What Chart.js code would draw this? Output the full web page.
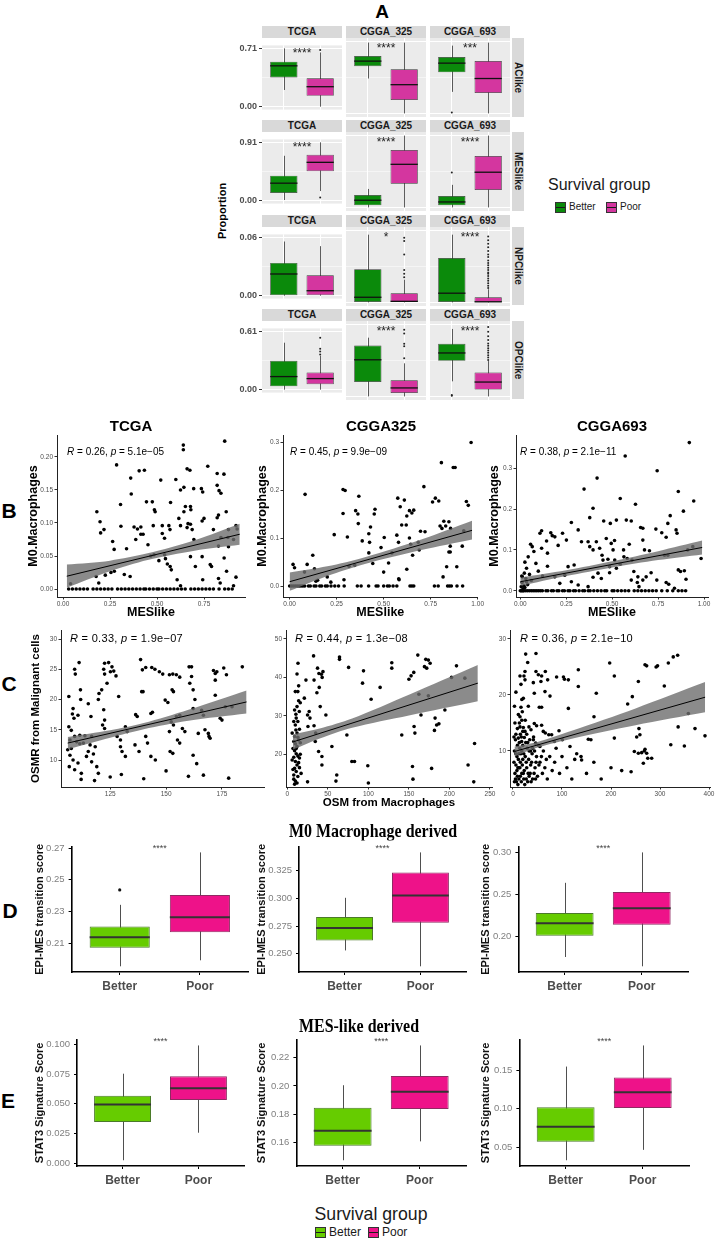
<!DOCTYPE html>
<html>
<head>
<meta charset="utf-8">
<title>Survival group figure</title>
<script src="https://cdn.jsdelivr.net/npm/chart.js@4.4.1/dist/chart.umd.min.js"></script>
<style>
  html, body { margin: 0; padding: 0; background: #fff; }
  body { position: relative; width: 715px; height: 1239px; overflow: hidden; font-family: "Liberation Sans", Arial, sans-serif; color: #000; }
  canvas { position: absolute; }
  .t { position: absolute; white-space: nowrap; line-height: 1; }
  .strip { position: absolute; background: #d9d9d9; color: #1a1a1a; font-weight: bold; font-size: 10px; text-align: center; }
  .vstrip { writing-mode: vertical-rl; }
  .key { position: absolute; width: 11px; height: 11px; box-sizing: border-box; border: 1px solid #333; }
  .key::after { content: ''; position: absolute; left: 0; right: 0; top: 4px; height: 1.5px; background: #1a1a1a; }
  .key::before { content: ''; position: absolute; left: 4px; width: 1px; top: -3px; bottom: -3px; background: #333; z-index: -1; }
</style>
</head>
<body>
<script>
// ---------------- panel A : malignant state proportions ----------------
var facetCols = ['TCGA', 'CGGA_325', 'CGGA_693'];
var facetRows = ['AClike', 'MESlike', 'NPClike', 'OPClike'];
var rowBreaks = ['0.71', '0.91', '0.06', '0.61'];
var groups = ['Better', 'Poor'];

// five numbers per box: [lower whisker, q1, median, q3, upper whisker]
var aBetter = [
  [[0.203, 0.355, 0.497, 0.548, 0.71], [0.345, 0.467, 0.517, 0.568, 0.70], [0.213, 0.406, 0.497, 0.558, 0.67]],
  [[0.01, 0.121, 0.273, 0.39, 0.70], [0, 0.026, 0.091, 0.156, 0.234], [0, 0.026, 0.069, 0.143, 0.286]],
  [[0, 0, 0.0223, 0.0337, 0.0557], [0, 0, 0.0043, 0.0277, 0.0566], [0, 0, 0.0077, 0.0371, 0.0566]],
  [[0, 0.035, 0.137, 0.302, 0.491], [0, 0.122, 0.311, 0.433, 0.499], [0.128, 0.302, 0.369, 0.447, 0.573]]
];
var aPoor = [
  [[0, 0.132, 0.243, 0.345, 0.66], [0, 0.132, 0.284, 0.436, 0.70], [0, 0.203, 0.345, 0.517, 0.70]],
  [[0.15, 0.459, 0.598, 0.715, 0.91], [0, 0.299, 0.546, 0.728, 0.91], [0, 0.221, 0.446, 0.65, 0.91]],
  [[0, 0, 0.0051, 0.0209, 0.0509], [0, 0, 0.0009, 0.0077, 0.019], [0, 0, 0.0005, 0.0043, 0.011]],
  [[0, 0.058, 0.116, 0.18, 0.355], [0, 0.029, 0.072, 0.137, 0.281], [0, 0.058, 0.122, 0.203, 0.30]]
];
var aOutBetter = [
  [[], [], [0.01]],
  [[], [], [0.442]],
  [[], [], []],
  [[], [], [0.005, 0.011]]
];
var aOutPoor = [
  [[0.69], [], []],
  [[0.05], [], []],
  [[], [0.021, 0.024, 0.027, 0.040, 0.0514, 0.054],
   [0.012, 0.014, 0.016, 0.018, 0.020, 0.022, 0.024, 0.025, 0.027, 0.029, 0.031, 0.033, 0.035, 0.038, 0.040, 0.043, 0.046, 0.049, 0.052, 0.055]],
  [[0.369, 0.398, 0.427, 0.543], [0.325, 0.427, 0.447, 0.534, 0.566],
   [0.31, 0.33, 0.35, 0.37, 0.39, 0.41, 0.43, 0.45, 0.48, 0.51, 0.55, 0.59]]
];
var aStars = [['****', '****', '***'], ['****', '****', '****'], ['', '*', '****'], ['', '****', '****']];

// ---------------- panel B : M0 macrophages vs MESlike ----------------
var bTitles = ['TCGA', 'CGGA325', 'CGGA693'];
var bStats = ['0.26, <i>p</i> = 5.1e\u221205', '0.45, <i>p</i> = 9.9e\u221209', '0.38, <i>p</i> = 2.1e\u221211'];

var bTcgaPts = [[0.64,0.218],[0.64,0.211],[0.86,0.224],[0.285,0.188],[0.405,0.179],[0.433,0.18],[0.66,0.182],[0.675,0.18],[0.77,0.186],[0.82,0.175],[0.856,0.174],
  [0.36,0.168],[0.52,0.165],[0.6,0.166],[0.625,0.15],[0.643,0.154],[0.695,0.152],[0.736,0.152],[0.743,0.147],[0.82,0.157],[0.83,0.149],[0.84,0.145],
  [0.363,0.144],[0.306,0.128],[0.444,0.132],[0.475,0.132],[0.486,0.12],[0.49,0.117],[0.572,0.131],[0.18,0.117],[0.2,0.085],
  [0.197,0.102],[0.218,0.09],[0.264,0.072],[0.272,0.06],[0.308,0.095],[0.378,0.094],[0.396,0.091],[0.414,0.094],[0.387,0.075],[0.414,0.083],[0.426,0.083],
  [0.338,0.061],[0.452,0.067],[0.48,0.096],[0.528,0.096],[0.528,0.084],[0.54,0.077],[0.563,0.096],[0.569,0.09],[0.616,0.107],[0.625,0.096],[0.643,0.117],
  [0.651,0.125],[0.678,0.125],[0.68,0.12],[0.66,0.093],[0.678,0.098],[0.665,0.099],[0.687,0.09],[0.696,0.075],[0.74,0.103],[0.75,0.107],[0.8,0.09],
  [0.82,0.108],[0.827,0.112],[0.868,0.117],[0.88,0.09],[0.92,0.096],[0.926,0.091],[0.84,0.078],[0.877,0.078],[0.907,0.075],[0.54,0.052],[0.467,0.05],
  [0.484,0.052],[0.827,0.065],[0.88,0.064],[0.176,0.019],[0.19,0.009],[0.225,0.021],[0.255,0.025],[0.273,0.027],[0.326,0.022],[0.357,0.019],[0.51,0.043],
  [0.545,0.046],[0.555,0.038],[0.57,0.034],[0.576,0.029],[0.607,0.014],[0.625,0.005],[0.678,0.049],[0.704,0.034],[0.74,0.049],[0.783,0.037],[0.79,0.034],
  [0.743,0.014],[0.827,0.016],[0.836,0.009],[0.87,0.027],[0.857,0.047],[0.92,0.018],[0.907,0.005],[0.04,0.008]];
var bTcgaZeroX = [0.03,0.05,0.07,0.09,0.11,0.13,0.16,0.18,0.2,0.22,0.24,0.26,0.29,0.31,0.33,0.35,0.37,0.39,0.41,0.43,0.44,0.46,0.48,0.5,0.51,
  0.53,0.55,0.57,0.59,0.61,0.63,0.65,0.68,0.7,0.72,0.74,0.76,0.78,0.8,0.83,0.86,0.88,0.9];
var bTcgaFit = [[0.02, 0.0194], [0.94, 0.083]];
var bTcgaBandX = [0.02, 0.25, 0.45, 0.7, 0.94];
var bTcgaBandHi = [0.037, 0.043, 0.054, 0.074, 0.099];
var bTcgaBandLo = [0.002, 0.027, 0.044, 0.058, 0.067];

var b325Pts = [[0.965,0.299],[0.807,0.257],[0.87,0.247],[0.88,0.247],[0.94,0.176],[0.95,0.168],[0.082,0.191],[0.284,0.201],[0.295,0.199],[0.368,0.187],
  [0.714,0.207],[0.575,0.183],[0.61,0.179],[0.588,0.165],[0.637,0.157],[0.65,0.152],[0.66,0.158],[0.793,0.177],[0.76,0.175],[0.775,0.183],[0.284,0.151],
  [0.351,0.157],[0.363,0.15],[0.365,0.13],[0.454,0.16],[0.45,0.15],[0.623,0.146],[0.596,0.127],[0.62,0.127],[0.237,0.107],[0.307,0.102],[0.386,0.094],
  [0.421,0.109],[0.425,0.091],[0.43,0.123],[0.503,0.101],[0.57,0.106],[0.579,0.091],[0.637,0.1],[0.696,0.114],[0.8,0.125],[0.82,0.135],[0.81,0.12],
  [0.83,0.125],[0.847,0.134],[0.856,0.12],[0.684,0.091],[0.918,0.083],[0.854,0.083],[0.854,0.071],[0.926,0.115],[0.123,0.064],[0.093,0.045],[0.132,0.036],
  [0.018,0.045],[0.026,0.038],[0.079,0.029],[0.149,0.012],[0.2,0.019],[0.219,0.008],[0.289,0.013],[0.316,0.041],[0.346,0.043],[0.421,0.069],[0.442,0.047],
  [0.5,0.029],[0.526,0.048],[0.486,0.08],[0.544,0.069],[0.582,0.013],[0.623,0.035],[0.644,0.087],[0.654,0.064],[0.689,0.075],[0.816,0.019],[0.835,0.04],
  [0.847,0.071],[0.889,0.04],[0.14,0.01],[0.72,0.113],[0.58,0.015]];
var b325ZeroX = [0.0,0.01,0.02,0.03,0.04,0.05,0.06,0.07,0.08,0.1,0.11,0.13,0.14,0.16,0.17,0.19,0.2,0.22,0.24,0.26,0.29,0.36,0.38,0.42,0.46,0.47,0.5,
  0.52,0.53,0.55,0.57,0.64,0.65,0.66,0.77,0.79,0.84,0.85,0.86,0.89,0.92];
var b325Fit = [[0.0, 0.009], [0.97, 0.116]];
var b325BandX = [0.0, 0.2, 0.4, 0.7, 0.97];
var b325BandHi = [0.028, 0.041, 0.06, 0.097, 0.136];
var b325BandLo = [-0.01, 0.021, 0.046, 0.075, 0.097];

var b693Pts = [[0.92,0.363],[0.571,0.33],[0.745,0.294],[0.418,0.276],[0.347,0.249],[0.86,0.243],[0.544,0.226],[0.944,0.22],[0.396,0.202],[0.627,0.212],
  [0.816,0.184],[0.378,0.179],[0.523,0.173],[0.454,0.171],[0.577,0.173],[0.604,0.171],[0.49,0.165],[0.278,0.167],[0.888,0.195],[0.803,0.165],[0.848,0.149],
  [0.853,0.141],[0.77,0.142],[0.794,0.131],[0.738,0.151],[0.655,0.155],[0.667,0.153],[0.667,0.124],[0.676,0.1],[0.107,0.141],[0.116,0.147],[0.166,0.142],
  [0.174,0.135],[0.188,0.132],[0.23,0.141],[0.143,0.122],[0.206,0.111],[0.251,0.124],[0.116,0.104],[0.148,0.092],[0.056,0.114],[0.065,0.108],[0.074,0.096],
  [0.043,0.083],[0.025,0.07],[0.034,0.055],[0.022,0.043],[0.011,0.034],[0.034,0.022],[0.085,0.067],[0.098,0.048],[0.121,0.036],[0.148,0.06],[0.188,0.034],
  [0.315,0.149],[0.333,0.12],[0.369,0.12],[0.378,0.108],[0.396,0.1],[0.414,0.12],[0.432,0.104],[0.445,0.087],[0.468,0.128],[0.495,0.116],[0.513,0.123],
  [0.505,0.1],[0.562,0.1],[0.564,0.083],[0.582,0.079],[0.593,0.114],[0.544,0.065],[0.514,0.075],[0.477,0.077],[0.45,0.075],[0.486,0.059],[0.523,0.055],
  [0.486,0.044],[0.423,0.043],[0.441,0.03],[0.396,0.033],[0.369,0.01],[0.315,0.014],[0.278,0.022],[0.26,0.059],[0.242,0.038],[0.215,0.018],[0.293,0.063],
  [0.608,0.075],[0.618,0.047],[0.604,0.026],[0.637,0.02],[0.646,0.01],[0.64,0.034],[0.667,0.026],[0.685,0.034],[0.703,0.098],[0.743,0.026],[0.794,0.02],
  [0.808,0.016],[0.839,0.006],[0.803,0.087],[0.785,0.087],[0.86,0.051],[0.872,0.047],[0.893,0.049],[0.911,0.1],[0.939,0.108],[0.984,0.079],[0.902,0.028],
  [0.712,0.044],[0.005,0.01],[0.01,0.02],[0.015,0.005],[0.02,0.012],[0.03,0.03],[0.04,0.015],[0.05,0.04],[0.06,0.025],[0.008,0.036],[0.025,0.008]];
var b693ZeroX = [0,0.005,0.01,0.015,0.02,0.03,0.04,0.05,0.06,0.07,0.08,0.09,0.1,0.11,0.12,0.14,0.15,0.17,0.18,0.2,0.21,0.23,0.24,0.26,0.27,0.29,0.3,
  0.32,0.34,0.35,0.37,0.38,0.4,0.42,0.44,0.46,0.47,0.5,0.51,0.53,0.55,0.57,0.59,0.62,0.64,0.66,0.68,0.7,0.72,0.74,0.77,0.8,0.83,0.86,0.88,0.9];
var b693Fit = [[0.0, 0.022], [0.99, 0.106]];
var b693BandX = [0.0, 0.25, 0.5, 0.75, 0.99];
var b693BandHi = [0.032, 0.05, 0.072, 0.097, 0.123];
var b693BandLo = [0.012, 0.036, 0.057, 0.075, 0.089];

// ---------------- panel C : OSMR vs OSM ----------------
var cStats = ['0.33, <i>p</i> = 1.9e\u221207', '0.44, <i>p</i> = 1.3e\u221208', '0.36, <i>p</i> = 2.1e\u221210'];

var cTcgaPts = [[106.5,20.5],[109.1,25.0],[109.4,24.2],[111.1,26.1],[111.7,21.6],[111.8,20.0],[108.1,17.6],[108.8,16.9],[108.4,18.5],[106.5,15.5],
  [107.6,14.9],[110.6,17.4],[115.2,19.3],[116.4,17.2],[109.1,13.9],[111.4,14.1],[113.7,14.0],[116.7,13.9],[107,13.3],[110,13.0],[113,12.8],[116,12.5],
  [118.3,12.2],[107.6,11.9],[111.4,12.7],[106,11.7],[107,10.8],[108.4,10.0],[110.6,9.5],[106.7,8.9],[109.1,8.4],[112.1,7.8],[114.4,10.6],[116.7,9.7],
  [119,8.9],[119.7,7.8],[115.2,11.4],[117.5,11.0],[122.5,26.0],[124.3,26.1],[125.8,25.4],[122.1,25.0],[122.5,24.2],[123.6,22.7],[121.2,21.6],[120,21.0],
  [119.7,20.0],[122.1,18.3],[122.5,16.6],[121.6,15.8],[122.5,15.2],[125.1,24.6],[126.6,24.7],[127.6,23.9],[128.8,20.5],[131.8,15.5],[132.6,14.7],
  [128.1,13.9],[129.6,13.3],[129.6,12.2],[130.3,11.4],[131.8,10.6],[136.4,17.5],[137.1,17.2],[138.6,26.6],[139.1,21.3],[139.7,21.3],[139.4,24.9],
  [140.9,25.3],[143.6,25.3],[145,25.0],[143.2,17.7],[143.9,17.9],[140.9,13.9],[141.7,12.8],[143.2,10.6],[145.2,10.0],[136.1,12.5],[137.9,11.4],
  [147,24.6],[148.5,24.2],[149.6,19.9],[150.8,19.5],[151.5,24.1],[153,24.2],[154.6,24.1],[156.1,23.7],[152.7,21.6],[153.3,21.3],[152.3,16.3],[153.3,15.8],
  [151.5,14.7],[154.6,17.2],[156.1,17.4],[157.3,15.2],[158.4,14.7],[155.1,13.3],[156.1,12.8],[151.8,11.4],[153,11.1],[160.6,22.7],[161.4,23.8],
  [160.3,25.4],[161.4,25.4],[162.1,21.6],[162.1,18.5],[162.9,20.0],[164.4,14.4],[162.1,10.8],[163.7,9.4],[165.9,18.2],[166.7,17.4],[167.4,15.0],
  [168.9,14.4],[169.2,13.9],[169.7,13.6],[171.2,24.8],[172,24.3],[172.7,24.6],[172,23.2],[172,20.7],[174.2,16.9],[175,16.6],[176.5,18.8],[175.8,25.2],
  [177,24.1],[184.1,25.4],[179.5,18.8],[166.7,7.5],[112,6.8],[125,7.2],[140,6.9],[160,7.3],[178,7.0],[130,7.6],[118,6.6],[150,8.2]];
var cTcgaFit = [[106, 12.8], [186, 19.6]];
var cTcgaBandX = [106, 125, 140, 160, 186];
var cTcgaBandHi = [13.8, 14.9, 16.1, 18.3, 21.5];
var cTcgaBandLo = [11.8, 13.7, 15.1, 16.5, 17.7];

var c325Pts = [[13.2,43.7],[12,40.9],[14,37.8],[13,36.3],[9.9,36.3],[14,33.9],[16,33.4],[12,32.4],[14.8,31.1],[9,31.5],[10.6,30.4],[11,29.4],[13,28.5],
  [9.9,27.6],[10.6,26.3],[12,25.5],[9,24.6],[13,24.4],[14,23.7],[8,23.3],[10,22.7],[12,22],[9,20.9],[11,20.1],[8,19.2],[10,18.1],[12,17.2],[9,16.3],
  [11,15.5],[8,14.6],[13,14.2],[16,20],[17,15],[15,19],[10,13],[12,12.5],[7,21.5],[15,16.5],[21,34.6],[23,39.3],[25,30.2],[27,31.1],[28,29.4],[25.5,27.2],
  [32.4,45.6],[37.3,42.4],[33,39.3],[39,41],[43,40],[44,41.5],[42,40.8],[39.4,37.4],[36.5,36],[40.6,32.4],[47.6,30.2],[33,27.4],[34.5,23.3],[35,25.5],
  [38.6,20.7],[42.7,19.4],[42.7,17.2],[55,22],[64.4,44.7],[64.4,45.3],[75.6,42.6],[73.5,25],[79.6,18.1],[82.9,18.1],[61,14.6],[94,41.7],[92.8,38.5],
  [103.4,34.3],[99.3,17],[114.5,37.4],[128.9,43.8],[128.9,42.4],[141.2,25],[150,39.5],[152.7,40.4],[156,41.3],[161,45.8],[162.3,35.6],[164.9,30.2],
  [156.4,27.2],[157.4,25.5],[154.4,16.8],[170.8,44.7],[169.2,42.8],[172,42.4],[174,44.5],[176.2,43.7],[174,35.2],[182.3,29.4],[181.5,26.2],[184.2,27.6],
  [178,16.3],[187,27.9],[194.4,31.5],[202.6,40],[208.7,43],[219,39.8],[223,17.2],[231,22.8],[60,13],[100,12.5],[155,13.5],[230,12.8],[25,12.8],
  [6,18.5],[7,16],[8,13.5],[9,12.2],[11,21.5],[13,19.5],[14,17.8],[6,25.5],[8,28.5],[15,26.5],[16,23]];
var c325Fit = [[7, 23.2], [235, 38.5]];
var c325BandX = [7, 40, 80, 150, 235];
var c325BandHi = [25.2, 26.7, 29.3, 35.5, 43.2];
var c325BandLo = [21.2, 24.1, 26.9, 30.1, 33.8];

var c693Pts = [[25.9,27.3],[46.9,27.4],[30,25.8],[24.5,24.2],[22.4,23.4],[24.5,22.7],[14.3,23.4],[16.3,21.9],[46.9,24.2],[51.7,23.6],[66,24.2],
  [70.7,22.7],[58.4,23.4],[57,22.4],[41.5,22.2],[43.5,20.3],[89,23.2],[103,23.2],[105,22.8],[113,22.7],[65.3,20.6],[75.5,19.8],[21.1,19.4],[18,19.2],
  [16.3,17.8],[19,17],[14.3,16.1],[31.3,18],[53.7,17.8],[58.4,17.8],[14.3,14.3],[21.1,14.2],[24.5,13.5],[10.9,12.3],[17.7,11.7],[23.1,12.4],[32.6,14.3],
  [36.7,13.8],[43.5,14.9],[48.2,14.5],[58.4,14.6],[61.8,13.5],[66,13.2],[73,12.9],[41.5,12],[46.2,11.4],[55,10.8],[78.9,12.9],[84.3,11.7],[93.9,13.6],
  [100.7,12],[113,17.6],[116.3,10.8],[133.3,24.5],[133.3,21.5],[138.8,9],[140,8.4],[126,8.5],[153.7,12.1],[159,12],[165.3,16.1],[197.3,25.7],[170,20.3],
  [206.8,23.4],[221.8,6.5],[234,18.4],[206.8,12.3],[243.5,19.7],[241,6.3],[255.8,22.4],[257,14],[259,12.9],[252.4,12.5],[247.6,9.9],[255.8,9.6],
  [262.6,9.7],[268,10],[272.8,9.6],[269.4,25.4],[272.8,25.2],[269.4,10.3],[266,7.8],[275,8.7],[283,8.7],[292,25],[295,25.2],[308.8,21.6],[317,25.7],
  [327,26.8],[336,27.1],[322,11.1],[337,14.3],[349.7,10.9],[357.8,16.7],[371.4,14],[391.8,12.7],[5,12],[8,9],[10,7],[12,5],[15,8],[18,6],[20,11],[22,5],
  [25,9],[28,7],[30,4.5],[33,10],[35,6],[38,8],[40,5],[42,12.5],[45,7],[48,9],[50,5.5],[55,8],[60,6],[3,10],[6,13],[9,11],[14,10.5],[17,12.5],[26,11.5],
  [32,8.5],[36,10],[44,10],[52,11],[58,9],[65,7],[70,5],[75,9],[85,8],[95,6],[110,7],[120,5],[130,9.5],[150,6],[165,8],[180,5],[200,7],[4,6],[7,4.5],
  [11,8.5],[13,15],[16,9.5],[19,7.5],[23,6.5],[27,5],[29,10.5],[31,6],[34,12],[37,4.5],[39,9.5],[46,5],[53,7.5],[62,10],[68,8.5],[80,6.5],[88,10.5],[100,9],
  [2,8],[5,5],[8,6.5],[10,4],[12,9.5],[14,7],[17,4.5],[20,8.5],[21,6],[24,4],[27,8],[30,11.5],[33,5.5],[36,7.5],[40,10.5],[43,6],[47,8],[2,12.5],[4,15],
  [6,9.5],[9,14],[11,16.5],[13,11.5],[15,13],[18,15.5],[20,13.5],[22,9.5],[25,15.5],[28,13],[3,4.5],[6,7.5],[9,5.5],[12,7],[15,5.5],[18,10],[3,18],[6,20.5]];
var c693Fit = [[3, 9.9], [392, 19.6]];
var c693BandX = [3, 50, 120, 250, 392];
var c693BandHi = [10.8, 11.6, 13.6, 17.6, 22.3];
var c693BandLo = [9.0, 10.6, 12.2, 14.6, 16.9];

// ---------------- panels D / E : derived scores ----------------
var dBetter = [[0.1954, 0.2071, 0.2138, 0.2206, 0.2342], [0.2531, 0.2621, 0.2732, 0.2831, 0.3005], [0.1752, 0.2005, 0.2154, 0.2276, 0.2637]];
var dPoor = [[0.1992, 0.2169, 0.2263, 0.2404, 0.2673], [0.2388, 0.2781, 0.3026, 0.3233, 0.3414], [0.1641, 0.2137, 0.2335, 0.2527, 0.30]];
var dOutBetter = [[0.2436], [], []];
var dOutPoor = [[], [], []];
var dTicks = [['0.21', '0.23', '0.25', '0.27'], ['0.250', '0.275', '0.300', '0.325'], ['0.20', '0.25', '0.30']];

var eBetter = [[0.0027, 0.0348, 0.0494, 0.0569, 0.0753], [0.1477, 0.1579, 0.1684, 0.1847, 0.2005], [0.0331, 0.0572, 0.0764, 0.102, 0.1546]];
var ePoor = [[0.0258, 0.0533, 0.0632, 0.0732, 0.099], [0.161, 0.1838, 0.1959, 0.207, 0.2285], [0.0466, 0.1008, 0.1213, 0.1405, 0.182]];
var eOutBetter = [[], [], []];
var eOutPoor = [[], [], []];
var eTicks = [['0.000', '0.025', '0.050', '0.075', '0.100'], ['0.16', '0.18', '0.20', '0.22'], ['0.05', '0.10', '0.15']];

// ---------------- look ----------------
var FONT = '"Liberation Sans", Arial, sans-serif';
var A_GREEN = '#0b8a0b', A_PINK = '#d4369f';
var E_GREEN = '#66cc00', E_PINK = '#ee1289';
var BAND = 'rgba(110,110,110,0.8)';

Chart.defaults.font.family = FONT;
Chart.defaults.animation = false;
Chart.defaults.responsive = false;
Chart.defaults.events = [];
Chart.defaults.plugins.legend.display = false;
Chart.defaults.plugins.tooltip.enabled = false;

function addCanvas(left, top, w, h) {
  var cv = document.createElement('canvas');
  cv.width = Math.round(w); cv.height = Math.round(h);
  cv.style.left = Math.round(left) + 'px';
  cv.style.top = Math.round(top) + 'px';
  cv.style.width = Math.round(w) + 'px';
  cv.style.height = Math.round(h) + 'px';
  document.body.appendChild(cv);
  return cv;
}

function label(html, x, y, css, align) {
  var d = document.createElement('div');
  d.className = 't';
  d.innerHTML = html;
  d.style.left = x + 'px';
  d.style.top = y + 'px';
  d.style.transform = (align === 'left' ? 'translate(0,-50%)' : 'translate(-50%,-50%)') + (css.tf || '');
  for (var k in css) if (k !== 'tf') d.style[k] = css[k];
  document.body.appendChild(d);
  return d;
}

function panelBg(color) {
  return {
    id: 'panelBg',
    beforeDraw: function (chart) {
      var a = chart.chartArea, c = chart.ctx;
      c.save(); c.fillStyle = color;
      c.fillRect(a.left, a.top, a.right - a.left, a.bottom - a.top);
      c.restore();
    }
  };
}

// whiskers under the boxes, medians / outliers / stars on top
function boxPlugin(stats, outs, look) {
  return {
    id: 'boxParts',
    beforeDatasetsDraw: function (chart) {
      var x = chart.scales.x, y = chart.scales.y, c = chart.ctx;
      c.save();
      c.strokeStyle = look.whisker; c.lineWidth = look.whiskerW;
      stats.forEach(function (s, i) {
        var px = Math.round(x.getPixelForValue(i + 1)) + 0.5;
        c.beginPath();
        c.moveTo(px, y.getPixelForValue(s[0]));
        c.lineTo(px, y.getPixelForValue(s[4]));
        c.stroke();
      });
      c.restore();
    },
    afterDatasetsDraw: function (chart) {
      var x = chart.scales.x, y = chart.scales.y, c = chart.ctx;
      var bars = chart.getDatasetMeta(0).data;
      c.save();
      stats.forEach(function (s, i) {
        var px = x.getPixelForValue(i + 1), hw = bars[i].width / 2, py = y.getPixelForValue(s[2]);
        c.strokeStyle = look.median; c.lineWidth = look.medianW;
        c.beginPath(); c.moveTo(px - hw, py); c.lineTo(px + hw, py); c.stroke();
        c.fillStyle = look.outlier;
        (outs[i] || []).forEach(function (v) {
          c.beginPath(); c.arc(px, y.getPixelForValue(v), look.outR, 0, Math.PI * 2); c.fill();
        });
      });
      if (look.star) {
        c.fillStyle = look.starColor; c.font = look.starFont;
        c.textAlign = 'center'; c.textBaseline = 'middle';
        var sy = look.starY != null ? y.getPixelForValue(look.starY) : chart.chartArea.top + look.starOff;
        c.fillText(look.star, x.getPixelForValue(1.5), sy);
      }
      c.restore();
    }
  };
}

// ---------------- panel A ----------------
var A_COL_X = [262, 346, 430], A_W = 80, A_ROW_Y = [38, 132.3, 226.6, 320.9], A_H = 78.5, A_YW = 27;

function facetChart(r, c) {
  var left = c === 0;
  var cv = addCanvas(A_COL_X[c] - (left ? A_YW : 0), A_ROW_Y[r], A_W + (left ? A_YW : 0), A_H);
  var M = parseFloat(rowBreaks[r]);
  var b = aBetter[r][c], p = aPoor[r][c];
  new Chart(cv, {
    type: 'bar',
    data: {
      datasets: [{
        data: [{ x: 1, y: [b[1], b[3]] }, { x: 2, y: [p[1], p[3]] }],
        backgroundColor: [A_GREEN, A_PINK], borderColor: '#333', borderWidth: 0.7, borderSkipped: false,
        categoryPercentage: 1, barPercentage: 0.75
      }]
    },
    options: {
      layout: { padding: 0 },
      scales: {
        x: {
          type: 'linear', min: 0.4, max: 2.6, offset: false,
          afterBuildTicks: function (s) { s.ticks = [{ value: 1 }, { value: 2 }]; },
          afterFit: function (s) { s.height = 0; },
          ticks: { display: false },
          grid: { color: '#fff', lineWidth: 1, drawTicks: false, offset: false },
          border: { display: false }
        },
        y: {
          min: -0.05 * M, max: 1.05 * M,
          afterBuildTicks: function (s) { s.ticks = [{ value: 0 }, { value: M / 2 }, { value: M }]; },
          afterFit: function (s) { s.width = left ? A_YW : 0; },
          ticks: {
            display: left, autoSkip: false, padding: 2, color: '#4d4d4d',
            font: { size: 9, weight: 'bold' },
            callback: function (v, i) { return i === 0 ? '0.00' : (i === 2 ? rowBreaks[r] : ''); }
          },
          grid: {
            color: '#fff', drawTicks: left, tickLength: 3,
            lineWidth: function (ctx) { return ctx.index === 1 ? 0.5 : 1; },
            tickColor: function (ctx) { return ctx.index === 1 ? 'rgba(0,0,0,0)' : '#333'; }
          },
          border: { display: false }
        }
      }
    },
    plugins: [panelBg('#ebebeb'), boxPlugin([b, p], [aOutBetter[r][c], aOutPoor[r][c]], {
      whisker: '#333', whiskerW: 0.8, median: '#111', medianW: 1.3, outlier: '#222', outR: 1,
      star: aStars[r][c], starY: 0.9 * M, starColor: '#222', starFont: '12px ' + FONT
    })]
  });
  label(facetCols[c], A_COL_X[c] + A_W / 2, A_ROW_Y[r] - 6, { fontWeight: 'bold', fontSize: '10px', color: '#1a1a1a', zIndex: 2 });
}

for (var r = 0; r < facetRows.length; r++) {
  for (var c = 0; c < facetCols.length; c++) {
    var st = document.createElement('div');
    st.className = 'strip';
    st.style.left = A_COL_X[c] + 'px'; st.style.top = (A_ROW_Y[r] - 12) + 'px';
    st.style.width = A_W + 'px'; st.style.height = '12px';
    document.body.appendChild(st);
    facetChart(r, c);
  }
  var vs = document.createElement('div');
  vs.className = 'strip vstrip';
  vs.style.left = '512px'; vs.style.top = A_ROW_Y[r] + 'px';
  vs.style.width = '12px'; vs.style.height = A_H + 'px';
  vs.style.lineHeight = '12px';
  vs.textContent = facetRows[r];
  document.body.appendChild(vs);
}

label('A', 382, 11, { fontWeight: 'bold', fontSize: '19px' });
label('Proportion', 222, 211, { fontWeight: 'bold', fontSize: '11px', tf: ' rotate(-90deg)' });
label('Survival group', 548, 185, { fontSize: '16px', color: '#1a1a1a' }, 'left');

function legendKeys(x, y, gap, fills, size) {
  groups.forEach(function (g, i) {
    var k = document.createElement('div');
    k.className = 'key';
    k.style.left = (x + i * gap) + 'px'; k.style.top = (y - 5.5) + 'px';
    k.style.background = fills[i];
    document.body.appendChild(k);
    label(g, x + i * gap + 14, y, { fontSize: size, color: '#1a1a1a' }, 'left');
  });
}
legendKeys(555, 207, 51, [A_GREEN, A_PINK], '10px');

// ---------------- panels B / C : scatter with linear fit ----------------
function scatterPlot(rect, range, s) {
  var pt = 6, pr = 6;
  var cv = addCanvas(rect[0] - s.yW, rect[1] - pt, rect[2] - rect[0] + s.yW + pr, rect[3] - rect[1] + pt + s.xH);
  var pts = s.pts.map(function (p) { return { x: p[0], y: p[1] }; })
    .concat((s.zeroX || []).map(function (v) { return { x: v, y: 0 }; }));
  var xy = function (p) { return { x: p[0], y: p[1] }; };
  var hi = s.bandX.map(function (v, i) { return { x: v, y: s.bandHi[i] }; });
  var lo = s.bandX.map(function (v, i) { return { x: v, y: s.bandLo[i] }; });
  var tickFont = { size: s.tickSize, family: FONT };
  var titleFont = { size: s.titleSize, weight: 'bold', family: FONT };
  return new Chart(cv, {
    type: 'scatter',
    data: {
      datasets: [
        { type: 'line', data: s.fit.map(xy), showLine: true, borderColor: '#000', borderWidth: 1, pointRadius: 0, fill: false, order: 0 },
        { type: 'line', data: hi, showLine: true, borderColor: 'rgba(0,0,0,0)', borderWidth: 0, pointRadius: 0, fill: '+1', backgroundColor: BAND, tension: 0.3, order: 1 },
        { type: 'line', data: lo, showLine: true, borderColor: 'rgba(0,0,0,0)', borderWidth: 0, pointRadius: 0, fill: false, tension: 0.3, order: 1 },
        { type: 'scatter', data: pts, pointRadius: s.r, backgroundColor: '#000', borderWidth: 0, order: 2 }
      ]
    },
    options: {
      layout: { padding: { top: pt, right: pr, left: 0, bottom: 0 } },
      scales: {
        x: {
          type: 'linear', min: range[0], max: range[1],
          afterBuildTicks: function (a) { a.ticks = s.xTicks.map(function (t) { return { value: parseFloat(t) }; }); },
          afterFit: function (a) { a.height = s.xH; },
          ticks: { autoSkip: false, maxRotation: 0, padding: 1, color: '#4d4d4d', font: tickFont, callback: function (v, i) { return s.xTicks[i]; } },
          grid: { drawOnChartArea: false, tickLength: 2.5, tickColor: '#333' },
          border: { display: true, color: '#222', width: 1 },
          title: { display: !!s.xTitle, text: s.xTitle || '', color: '#000', font: titleFont, padding: { top: 0, bottom: s.xTitlePad } }
        },
        y: {
          type: 'linear', min: range[2], max: range[3],
          afterBuildTicks: function (a) { a.ticks = s.yTicks.map(function (t) { return { value: parseFloat(t) }; }); },
          afterFit: function (a) { a.width = s.yW; },
          ticks: { autoSkip: false, padding: 1.5, color: '#4d4d4d', font: tickFont, callback: function (v, i) { return s.yTicks[i]; } },
          grid: { drawOnChartArea: false, tickLength: 2.5, tickColor: '#333' },
          border: { display: true, color: '#222', width: 1 },
          title: { display: !!s.yTitle, text: s.yTitle || '', color: '#000', font: titleFont, padding: { top: s.yTitlePad, bottom: 0 } }
        }
      }
    }
  });
}

var bX = ['0.00', '0.25', '0.50', '0.75'], bX1 = ['0.00', '0.25', '0.50', '0.75', '1.00'];
scatterPlot([57, 435, 245, 597], [-0.032, 0.968, -0.0121, 0.2333], {
  pts: bTcgaPts, zeroX: bTcgaZeroX, fit: bTcgaFit, bandX: bTcgaBandX, bandHi: bTcgaBandHi, bandLo: bTcgaBandLo,
  xTicks: bX, yTicks: ['0.00', '0.05', '0.10', '0.15', '0.20'], r: 1.8, tickSize: 6.5, titleSize: 12.5,
  yW: 37, xH: 24, xTitle: 'MESlike', yTitle: 'M0.Macrophages', xTitlePad: 1, yTitlePad: 6
});
scatterPlot([283, 435, 479, 597], [-0.0354, 1.0, -0.0229, 0.3146], {
  pts: b325Pts, zeroX: b325ZeroX, fit: b325Fit, bandX: b325BandX, bandHi: b325BandHi, bandLo: b325BandLo,
  xTicks: bX1, yTicks: ['0.0', '0.1', '0.2', '0.3'], r: 1.8, tickSize: 6.5, titleSize: 12.5,
  yW: 33, xH: 24, xTitle: 'MESlike', yTitle: 'M0.Macrophages', xTitlePad: 1, yTitlePad: 5
});
scatterPlot([516, 435, 708, 597], [-0.0234, 1.0217, -0.0154, 0.3816], {
  pts: b693Pts, zeroX: b693ZeroX, fit: b693Fit, bandX: b693BandX, bandHi: b693BandHi, bandLo: b693BandLo,
  xTicks: bX1, yTicks: ['0.0', '0.1', '0.2', '0.3'], r: 1.8, tickSize: 6.5, titleSize: 12.5,
  yW: 34, xH: 24, xTitle: 'MESlike', yTitle: 'M0.Macrophages', xTitlePad: 1, yTitlePad: 5
});

scatterPlot([61, 630, 264, 787], [103, 193.8, 5.54, 31.49], {
  pts: cTcgaPts, fit: cTcgaFit, bandX: cTcgaBandX, bandHi: cTcgaBandHi, bandLo: cTcgaBandLo,
  xTicks: ['125', '150', '175'], yTicks: ['10', '15', '20', '25', '30'], r: 1.8, tickSize: 6.5, titleSize: 11.5,
  yW: 34, xH: 14, yTitle: 'OSMR from Malignant cells', yTitlePad: 2
});
scatterPlot([286, 630, 492, 787], [-1.6, 252.5, 11.46, 52.34], {
  pts: c325Pts, fit: c325Fit, bandX: c325BandX, bandHi: c325BandHi, bandLo: c325BandLo,
  xTicks: ['0', '50', '100', '150', '200', '250'], yTicks: ['20', '30', '40', '50'], r: 1.8, tickSize: 6.5, titleSize: 11.5,
  yW: 16, xH: 24, xTitle: 'OSM from Macrophages', xTitlePad: 1
});
scatterPlot([510, 630, 710, 787], [-6.1, 402, 3.57, 31.6], {
  pts: c693Pts, fit: c693Fit, bandX: c693BandX, bandHi: c693BandHi, bandLo: c693BandLo,
  xTicks: ['0', '100', '200', '300', '400'], yTicks: ['10', '20', '30'], r: 1.8, tickSize: 6.5, titleSize: 11.5,
  yW: 16, xH: 14
});

var bTitleX = [131, 381, 612];
bTitles.forEach(function (t, i) { label(t, bTitleX[i], 425, { fontWeight: 'bold', fontSize: '15px' }); });
[67, 290, 520].forEach(function (x, i) { label('<i>R</i> = ' + bStats[i], x, 452, { fontSize: '10px' }, 'left'); });
[70, 295, 520].forEach(function (x, i) { label('<i>R</i> = ' + cStats[i], x, 638, { fontSize: '11px', letterSpacing: '0.3px' }, 'left'); });
label('B', 9, 510, { fontWeight: 'bold', fontSize: '21px' });
label('C', 9, 683, { fontWeight: 'bold', fontSize: '21px' });

// ---------------- panels D / E : score box plots ----------------
function scorePlot(rect, titleX, stats, outs, ticks, yTitle) {
  var yW = rect[0] - titleX + 8.6, pt = 8, pr = 4, xH = 22;
  var cv = addCanvas(rect[0] - yW, rect[1] - pt, rect[2] - rect[0] + yW + pr, rect[3] - rect[1] + pt + xH);
  var vals = [].concat(stats[0], stats[1], outs[0], outs[1]);
  var lo = Math.min.apply(null, vals), hi = Math.max.apply(null, vals), pad = (hi - lo) * 0.05;
  new Chart(cv, {
    type: 'bar',
    data: {
      datasets: [{
        data: stats.map(function (s, i) { return { x: i + 1, y: [s[1], s[3]] }; }),
        backgroundColor: [E_GREEN, E_PINK], borderColor: ['#4b7a2a', '#8f2a62'], borderWidth: 1, borderSkipped: false,
        categoryPercentage: 1, barPercentage: 0.75
      }]
    },
    options: {
      layout: { padding: { top: pt, right: pr, left: 0, bottom: 0 } },
      scales: {
        x: {
          type: 'linear', min: 0.4, max: 2.6, offset: false,
          afterBuildTicks: function (s) { s.ticks = [{ value: 1 }, { value: 2 }]; },
          afterFit: function (s) { s.height = xH; },
          ticks: { autoSkip: false, maxRotation: 0, padding: 4, color: '#4d4d4d', font: { size: 12, weight: 'bold' },
            callback: function (v, i) { return groups[i]; } },
          grid: { drawOnChartArea: false, tickLength: 3, tickColor: '#000', offset: false },
          border: { display: true, color: '#000', width: 1.6 }
        },
        y: {
          min: lo - pad, max: hi + pad,
          afterBuildTicks: function (s) { s.ticks = ticks.map(function (t) { return { value: parseFloat(t) }; }); },
          afterFit: function (s) { s.width = yW; },
          ticks: { autoSkip: false, padding: 4, color: '#808080', font: { size: 9.5 }, callback: function (v, i) { return ticks[i]; } },
          grid: { drawOnChartArea: false, tickLength: 3, tickColor: '#000' },
          border: { display: true, color: '#000', width: 1.6 },
          title: { display: true, text: yTitle, color: '#111', font: { size: 11, weight: 'bold' }, padding: { top: 2, bottom: 0 } }
        }
      }
    },
    plugins: [boxPlugin(stats, outs, {
      whisker: '#222', whiskerW: 0.8, median: '#333', medianW: 2, outlier: '#111', outR: 1.6,
      star: '****', starOff: 2, starColor: '#444', starFont: '9px ' + FONT
    })]
  });
}

var dRects = [[72, 845, 248, 972], [299.4, 845, 466.6, 972], [518.8, 845, 688, 972]];
var eRects = [[77.4, 1038, 244.6, 1166], [296.8, 1038, 466, 1166], [519.8, 1038, 689, 1166]];
var titleXs = [40, 262, 486];
for (var i = 0; i < 3; i++) {
  scorePlot(dRects[i], titleXs[i], [dBetter[i], dPoor[i]], [dOutBetter[i], dOutPoor[i]], dTicks[i], 'EPI-MES transition score');
  scorePlot(eRects[i], titleXs[i], [eBetter[i], ePoor[i]], [eOutBetter[i], eOutPoor[i]], eTicks[i], 'STAT3 Signature Score');
}

label('M0 Macrophage derived', 373, 830, { fontFamily: '"Liberation Serif", "Times New Roman", serif', fontWeight: 'bold', fontSize: '19px', tf: ' scaleX(0.84)' });
label('MES-like derived', 359, 1025, { fontFamily: '"Liberation Serif", "Times New Roman", serif', fontWeight: 'bold', fontSize: '19px', tf: ' scaleX(0.84)' });
label('D', 10, 910, { fontWeight: 'bold', fontSize: '21px' });
label('E', 8, 1100, { fontWeight: 'bold', fontSize: '21px' });

label('Survival group', 371, 1213, { fontSize: '19px', color: '#1a1a1a', tf: ' scaleX(0.93)' });
legendKeys(315, 1232, 53, [E_GREEN, E_PINK], '12px');
</script>
</body>
</html>
